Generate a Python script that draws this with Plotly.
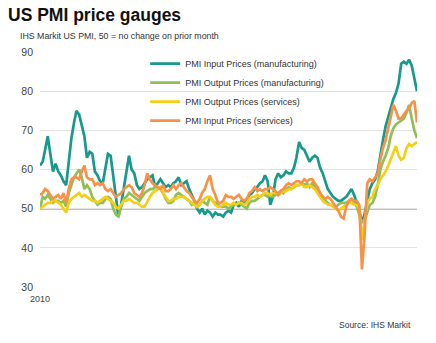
import pandas as pd
import plotly.graph_objects as go

dates = pd.date_range("2010-01-01", periods=145, freq="MS")

mfg_input = [
    61, 62, 65, 68.5, 64, 59.5, 61.5, 59.5, 58.5, 57, 56, 62,
    68, 72, 75, 74, 71.5, 68.5, 63, 64.5, 64, 59.5, 58.5, 57,
    56.5, 60, 64, 63.5, 58, 52, 48, 51, 55.5, 60, 63.5, 60,
    59, 56, 55, 55.5, 56.5, 57.5, 58, 58.5, 55.5, 56.5, 57.5, 56.5,
    55.5, 56, 55.5, 56.5, 57, 58, 56, 56.5, 57, 55, 53.5, 52,
    50, 49, 50, 48.5, 49.5, 49, 48, 49, 48.5, 48.5, 48, 49,
    49.5, 49, 51, 51.5, 50.5, 52, 51, 52.5, 53.5, 54, 55, 55.5,
    56.5, 57, 58.5, 57, 51, 53, 57.5, 59, 58, 58.5, 59.5, 59,
    59, 60.5, 63, 67, 65.5, 65, 63.5, 62, 63, 63.5, 63, 60.5,
    59, 57, 55, 54, 53, 52.5, 52, 52, 52.5, 53, 54, 55,
    53.5, 51.5, 49.5, 46.5, 48.5, 52, 55, 56.5, 57.5, 59.5, 64, 67.5,
    71, 73.5, 75.5, 78, 79.5, 82, 87, 87.5, 87, 88, 86.5, 83.5,
    80,
]
mfg_output = [
    50, 53, 52.5, 53.5, 52.5, 51.5, 52, 52, 51.5, 52, 50.5, 54,
    56, 58, 59, 60, 58, 55, 56, 55, 53, 52, 51, 51.5,
    51.5, 52.5, 53, 52.5, 50, 48.5, 48, 50.5, 52.5, 53, 54, 53.5,
    53, 52.5, 52, 53, 54, 54.5, 55, 55, 55.5, 55.5, 55, 54,
    52.5, 51.5, 51.5, 52, 53.5, 54, 53.5, 53, 52.5, 52, 51, 51.5,
    50.5, 51, 52, 51.5, 51, 53, 52, 51.5, 51, 50.5, 50.5, 50.5,
    50, 50.5, 51, 51, 51.5, 51, 50.5, 50, 51.5, 52, 52, 52.5,
    53, 53.5, 53.5, 53, 53.5, 53, 53.5, 54, 54.5, 54, 55, 55.5,
    55, 55.5, 56, 56, 56.5, 56, 56.5, 55.5, 56.5, 55.5, 55, 54,
    53, 52, 51.5, 51, 50.5, 50.5, 51, 51.5, 51.5, 51.5, 52, 52.5,
    51.5, 50.5, 48.5, 46.5, 47, 49, 51, 51.5, 53, 56, 60, 62,
    63.5, 65.5, 68.5, 70.5, 71.5, 72, 72.5, 73, 74.5, 76.5, 73, 70,
    68,
]
svc_output = [
    50, 50.5, 51, 51.5, 51.5, 52, 52, 51.5, 51, 50, 49, 51.5,
    52.5, 53, 53.5, 54, 53, 53.5, 53, 52.5, 52, 52, 51.5, 52,
    52.5, 53, 52.5, 52, 51.5, 50.5, 50, 51, 52, 52, 52.5, 52,
    51.5, 51.5, 51, 50.5, 50.5, 52, 53, 54, 54.5, 55, 55.5, 54,
    53, 52, 52, 52.5, 52.5, 53, 53, 53, 52.5, 52, 51.5, 51,
    50.5, 51, 52, 52.5, 53, 53, 52, 51, 50.5, 50.5, 51, 51.5,
    51, 51, 51.5, 51, 51.5, 51.5, 51, 51.5, 52.5, 53, 53, 53.5,
    53, 53.5, 54, 54, 53.5, 54, 54, 53.5, 54, 54.5, 54.5, 55,
    55, 55.5, 56, 56, 56.5, 55.5, 55.5, 56, 55.5, 55, 54, 53,
    52, 51.5, 51, 51, 50.5, 50, 49.5, 50, 50.5, 51, 51.5, 51.5,
    51, 51, 50, 42, 47, 51.5, 52.5, 53, 55, 56, 57.5, 58.5,
    59.5, 61, 62.5, 64.5, 66, 63.5, 62.5, 63, 65.5, 66.5, 66, 66.5,
    67,
]
svc_input = [
    53.5, 54, 55, 54.5, 53.5, 52.5, 53, 53.5, 52.5, 54, 51.5, 55,
    57.5, 58, 58, 57.5, 59.5, 61, 58, 57.5, 57.5, 56, 56.5, 56,
    56.5, 55, 54.5, 55, 54, 53, 53.5, 54, 55, 55.5, 56, 55.5,
    54, 53.5, 53, 54, 56, 59, 57.5, 56.5, 56, 55.5, 55, 56,
    54.5, 54.5, 55, 56, 55, 56, 56.5, 55.5, 54.5, 54, 53, 52,
    51.5, 52.5, 54, 55, 57, 58.5, 55, 53.5, 51.5, 51.5, 52, 53.5,
    53, 53, 52.5, 53, 53.5, 52.5, 52, 52.5, 54, 54.5, 55.5, 54.5,
    55, 54.5, 55, 55, 55.5, 55, 54.5, 53.5, 54.5, 55, 56, 56.5,
    56, 56.5, 57, 57, 56.5, 57.5, 57, 57.5, 57.5, 56.5, 55.5, 54,
    53, 52.5, 53, 52.5, 51.5, 50.5, 49.5, 48, 47.5, 50.5, 52, 52.5,
    52, 52, 51, 34.5, 43, 56.5, 57.5, 57, 58, 59, 62.5, 65.5,
    67.5, 70.5, 73, 76.5, 75, 73, 73, 74, 75, 75.5, 77, 77.5,
    72,
]

series_names = [
    "PMI Input Prices (manufacturing)",
    "PMI Output Prices (manufacturing)",
    "PMI Output Prices (services)",
    "PMI Input Prices (services)",
]
series_values = [mfg_input, mfg_output, svc_output, svc_input]
series_colors = ["#17998b", "#8fbf58", "#f4cf17", "#f6924a"]

y_ticks = [30, 40, 50, 60, 70, 80, 90]
x_tick_labels = ["2010"]

FONT = "Arial, Liberation Sans, sans-serif"

fig = go.Figure()
for name, vals, col in zip(series_names, series_values, series_colors):
    fig.add_trace(go.Scatter(x=dates, y=vals, mode="lines", name=name,
                             line=dict(color=col, width=2.7)))

fig.add_hline(y=50, line=dict(color="black", width=1.3), layer="below")

W, H = 436, 343
ml, mr, mt, mb = 40, 19, 52, 56

fig.update_layout(
    width=W, height=H,
    margin=dict(l=ml, r=mr, t=mt, b=mb),
    paper_bgcolor="white", plot_bgcolor="white",
    font=dict(family=FONT, color="#333333"),
    showlegend=True,
    legend=dict(x=0.279, y=1.012, xanchor="left", yanchor="top",
                bgcolor="rgba(0,0,0,0)", font=dict(size=9, color="#333333"),
                itemwidth=30, tracegroupgap=0),
    title=dict(text="<b>US PMI price gauges</b>", x=8 / W, xref="container",
               xanchor="left", y=1 - 15 / H, yref="container", yanchor="middle",
               font=dict(size=17.5, color="#111111", family=FONT)),
)
fig.update_yaxes(range=[30, 90], tickvals=y_ticks, showgrid=True,
                 gridcolor="#e3e3e3", gridwidth=1, zeroline=False,
                 ticks="", tickfont=dict(size=10.5, color="#444444"),
                 ticklabelstandoff=6, showline=False)
fig.update_xaxes(range=[dates[0], dates[-1]], tickvals=[dates[0]],
                 ticktext=x_tick_labels, showgrid=False, zeroline=False,
                 ticks="", tickfont=dict(size=9, color="#444444"),
                 ticklabelstandoff=5, showline=False)

pw = W - ml - mr
ph = H - mt - mb
fig.add_annotation(text="IHS Markit US PMI, 50 = no change on prior month",
                   xref="paper", yref="paper", x=(18 - ml) / pw,
                   y=(H - mb - 36) / ph, xanchor="left", yanchor="middle",
                   showarrow=False, font=dict(size=8.8, color="#333333"))
fig.add_annotation(text="Source: IHS Markit",
                   xref="paper", yref="paper", x=(413 - ml) / pw,
                   y=(H - mb - 325) / ph, xanchor="right", yanchor="middle",
                   showarrow=False, font=dict(size=8.5, color="#333333"))

fig.write_html("out.html")
